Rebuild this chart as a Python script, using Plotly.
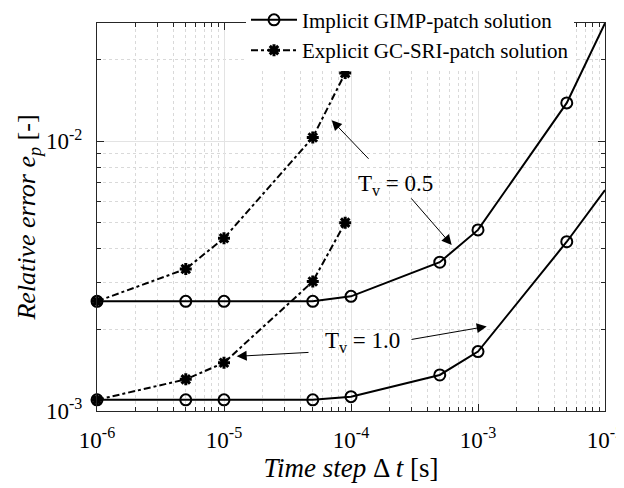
import plotly.graph_objects as go

# ---- data ----
dt_implicit = [1e-6, 5e-6, 1e-5, 5e-5, 1e-4, 5e-4, 1e-3, 5e-3, 1e-2]
err_imp_tv05 = [0.00255, 0.00255, 0.00255, 0.00255, 0.00266, 0.00356, 0.00469, 0.01386, 0.02737]
err_imp_tv10 = [0.00110, 0.00110, 0.00110, 0.00110, 0.00113, 0.00136, 0.00166, 0.00424, 0.00659]

dt_explicit = [1e-6, 5e-6, 1e-5, 5e-5, 9e-5]
err_exp_tv05 = [0.00255, 0.00336, 0.00437, 0.01032, 0.01788]
err_exp_tv10 = [0.00110, 0.00131, 0.00151, 0.00302, 0.00499]

x_tickvals = [1e-6, 1e-5, 1e-4, 1e-3, 1e-2]
x_ticktext = ["10<sup>-6</sup>", "10<sup>-5</sup>", "10<sup>-4</sup>", "10<sup>-3</sup>", "10<sup>-2</sup>"]
y_tickvals = [1e-3, 1e-2]
y_ticktext = ["10<sup>-3</sup>", "10<sup>-2</sup>"]

legend_names = ["Implicit GIMP-patch solution", "Explicit GC-SRI-patch solution"]

x_minor = [k * 10.0 ** e for e in range(-6, -2) for k in range(2, 10)]
y_minor = [k * 10.0 ** e for e in range(-3, -1) for k in range(2, 10)]

FONT = "Liberation Serif"
BLACK = "#000000"

fig = go.Figure()

imp_line = dict(color=BLACK, width=2)
imp_marker = dict(symbol="circle-open", size=11, color=BLACK, line=dict(width=2, color=BLACK))
exp_line = dict(color=BLACK, width=2, dash="7px,3px,3px,3px")
exp_marker = dict(symbol="asterisk-open", size=10, color=BLACK, line=dict(width=3, color=BLACK))

fig.add_trace(go.Scatter(x=dt_implicit, y=err_imp_tv05, mode="lines+markers",
                         line=imp_line, marker=imp_marker, name=legend_names[0],
                         legendgroup="imp", showlegend=True, cliponaxis=False))
fig.add_trace(go.Scatter(x=dt_implicit, y=err_imp_tv10, mode="lines+markers",
                         line=imp_line, marker=imp_marker, name=legend_names[0],
                         legendgroup="imp", showlegend=False, cliponaxis=False))
fig.add_trace(go.Scatter(x=dt_explicit, y=err_exp_tv05, mode="lines+markers",
                         line=exp_line, marker=exp_marker, name=legend_names[1],
                         legendgroup="exp", showlegend=True, cliponaxis=False))
fig.add_trace(go.Scatter(x=dt_explicit, y=err_exp_tv10, mode="lines+markers",
                         line=exp_line, marker=exp_marker, name=legend_names[1],
                         legendgroup="exp", showlegend=False, cliponaxis=False))

axis_common = dict(
    showline=True, linecolor="#262626", linewidth=1, mirror="ticks",
    ticks="inside", ticklen=7, tickcolor="#262626", tickwidth=1,
    showgrid=True, gridcolor="#e3e3e3", gridwidth=1,
    zeroline=False, automargin=False, ticklabeloverflow="allow",
    tickfont=dict(family=FONT, size=23, color=BLACK),
)

fig.update_xaxes(type="log", range=[-6, -2], tickmode="array",
                 tickvals=x_tickvals, ticktext=x_ticktext, ticklabelstandoff=8,
                 minor=dict(tickvals=x_minor, ticks="inside", ticklen=4, tickcolor="#262626",
                            showgrid=True, gridcolor="#d9d9d9", griddash="dot", gridwidth=1),
                 title=dict(text="<i>Time step</i> Δ <i>t</i> [s]", font=dict(family=FONT, size=27, color=BLACK),
                            standoff=2),
                 **axis_common)
fig.update_yaxes(type="log", range=[-3, -1.562], tickmode="array",
                 tickvals=y_tickvals, ticktext=y_ticktext, ticklabelstandoff=9,
                 minor=dict(tickvals=y_minor, ticks="inside", ticklen=4, tickcolor="#262626",
                            showgrid=True, gridcolor="#d9d9d9", griddash="dot", gridwidth=1),
                 title=dict(text="<i>Relative error e<sub>p</sub></i> [-]", font=dict(family=FONT, size=26, color=BLACK),
                            standoff=2),
                 **axis_common)

ann_font = dict(family=FONT, size=23, color=BLACK)
L, T, W, H = 97, 22.5, 508, 389
def to_data(px, py):
    lx = -6 + (px - L) / W * 4
    ly = -3 + (T + H - py) / H * 1.438
    return lx, ly

annotations = []
for (cx, cy), label in [((395, 185), "T<sub>v</sub> = 0.5"), ((362, 342), "T<sub>v</sub> = 1.0")]:
    dx, dy = to_data(cx, cy)
    annotations.append(dict(x=dx, y=dy, xref="x", yref="y", text=label,
                            showarrow=False, font=ann_font))
# arrows: head (px) and tail (px)
arrows = [((331.7, 120), (370, 160)),
          ((451.7, 245), (410, 197)),
          ((236.7, 356.7), (310, 352.7)),
          ((486.7, 326.7), (410, 340))]
for (hx, hy), (tx, ty) in arrows:
    dx, dy = to_data(hx, hy)
    annotations.append(dict(x=dx, y=dy, xref="x", yref="y", text="", showarrow=True,
                            ax=tx - hx, ay=ty - hy, axref="pixel", ayref="pixel",
                            arrowhead=2, arrowsize=2, arrowwidth=1, arrowcolor=BLACK))

# page has an 8px body margin: figure is 616x480, placed at (8, 8)
fig.update_layout(
    width=616, height=480,
    margin=dict(l=89, r=19, t=15, b=77, autoexpand=False),
    paper_bgcolor="white", plot_bgcolor="white",
    font=dict(family=FONT, color=BLACK),
    legend=dict(x=(246 - 97) / 508, y=1.06, xanchor="left", yanchor="top",
                bgcolor="white", borderwidth=0,
                font=dict(family=FONT, size=21, color=BLACK),
                itemwidth=46, tracegroupgap=0),
    annotations=annotations,
    showlegend=True,
)

fig.write_html("out.html")
